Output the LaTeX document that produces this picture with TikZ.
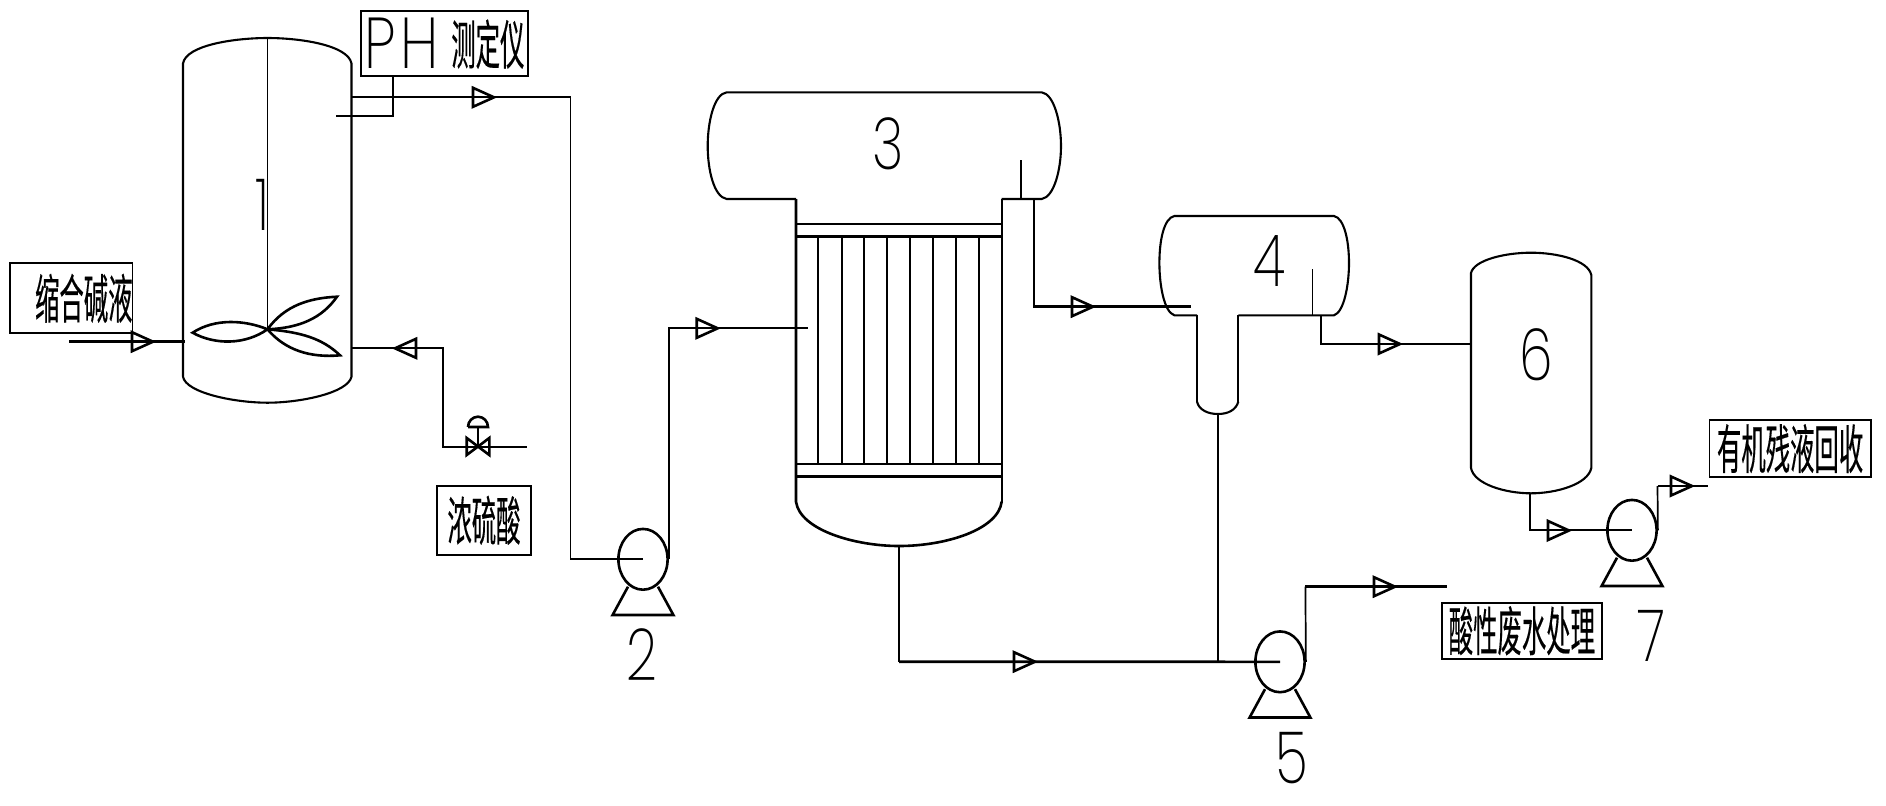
\documentclass[tikz,border=0pt]{standalone}
\usepackage{fontspec}
\usetikzlibrary{shapes.geometric,calc}
\newfontfamily\cjk[FakeStretch=0.46,FakeBold=0.25]{Noto Sans CJK SC}
\newfontfamily\numfont[FakeStretch=0.75]{Poppins ExtraLight}
\newfontfamily\phfont[FakeStretch=0.8]{Poppins ExtraLight}
\newcommand{\pumpunit}[3]{% name, x, y
  \node[pumpbody] (#1) at (#2,#3) {};
  \draw[thick line] ($(#1)+(-15,27.4)$) -- ($(#1)+(-30.4,55.7)$) -- ($(#1)+(30.4,55.7)$) -- ($(#1)+(15,27.4)$);
}
\begin{document}
\begin{tikzpicture}[x=0.5pt,y=-0.5pt,
  thin line/.style={line width=0.85pt},
  mid line/.style={line width=1.05pt},
  thick line/.style={line width=1.3pt},
  pumpbody/.style={draw,ellipse,line width=1.3pt,minimum width=24.6pt,minimum height=30.4pt,inner sep=0pt},
  tagbox/.style={draw,line width=0.9pt,inner sep=0pt,font=\cjk\fontsize{26.5}{26.5}\selectfont},
  num/.style={inner sep=0pt,font=\numfont\fontsize{36}{36}\selectfont},
  flow/.pic={\draw[thick line] (-21,-9.5) -- (0,0) -- (-21,9.5) -- cycle;}]
\useasboundingbox (0,0) rectangle (1886,805);

% vessel 1
\draw[mid line] (183,376.7) -- (183,63.5) .. controls (186,45) and (235,38) .. (267.5,38)
  .. controls (300,38) and (348,45) .. (351.5,63.5) -- (351.5,376.7)
  .. controls (348,393) and (300,402.7) .. (267.5,402.7)
  .. controls (235,402.7) and (186,393) .. (183,376.7);
\coordinate (hub) at (267.5,329.3);
\draw[thin line] (267.5,38) -- (hub);
\draw[thick line] (hub) .. controls (245,320) and (215,318) .. (192.6,332.7)
  .. controls (215,345) and (245,345) .. (hub);
\draw[thick line] (hub) .. controls (285,305) and (310,298) .. (337,296.7)
  .. controls (322,318) and (300,328) .. (hub);
\draw[thick line] (hub) .. controls (300,332) and (322,338) .. (340,355.3)
  .. controls (310,358) and (285,350) .. (hub);

% exchanger 3
\draw[mid line] (796,199) -- (726.7,199) .. controls (714,197) and (707.7,170) .. (707.7,146)
  .. controls (707.7,122) and (714,94) .. (726.7,92.3) -- (1041.7,92.3)
  .. controls (1054,94) and (1061,122) .. (1061,146)
  .. controls (1061,170) and (1054,197) .. (1041.7,199) -- (1001.7,199);
\draw[thick line] (796,199) -- (796,501.7) .. controls (800,530) and (855,546) .. (899,546)
  .. controls (945,546) and (998,530) .. (1001.7,501.7);
\draw[thin line] (1001.7,501.7) -- (1001.7,199);
\draw[thin line] (796,224.3) -- (1001.7,224.3);
\draw[thick line] (796,236.7) -- (1001.7,236.7);
\draw[thin line] (796,464.3) -- (1001.7,464.3);
\draw[thick line] (796,476.7) -- (1001.7,476.7);
\foreach \tx in {818.3,841.7,864.3,887,910,933,955.7,978.7}
  \draw[thin line] (\tx,236.7) -- (\tx,464.3);
\draw[thick line] (1021,160) -- (1021,199);

% drum 4
\draw[mid line] (1197,315.3) -- (1174.4,315.3) .. controls (1164,312) and (1159.4,285) .. (1159.4,263)
  .. controls (1159.4,240) and (1164,218) .. (1174.4,216) -- (1334,216)
  .. controls (1344,218) and (1349,240) .. (1349,263)
  .. controls (1349,285) and (1344,312) .. (1334,315.3) -- (1238.3,315.3);
\draw[thin line] (1197,315.3) -- (1197,401.7);
\draw[mid line] (1197,401.7) .. controls (1199,410) and (1208,414) .. (1218,414)
  .. controls (1228,414) and (1236,410) .. (1238.3,401.7);
\draw[thin line] (1238.3,401.7) -- (1238.3,315.3);
\draw[thin line] (1312.4,269) -- (1312.4,315.3);

% vessel 6
\draw[mid line] (1471,468) -- (1471,273) .. controls (1474,260) and (1505,252.7) .. (1531,252.7)
  .. controls (1557,252.7) and (1588,260) .. (1591.3,275) -- (1591.3,468)
  .. controls (1588,484) and (1557,493.3) .. (1531,493.3)
  .. controls (1505,493.3) and (1474,484) .. (1471,468);

% pumps
\pumpunit{pumpb}{643}{559.3}
\pumpunit{pumpe}{1280}{661.8}
\pumpunit{pumpg}{1632}{530.3}

% valve
\node[inner sep=0pt] (valve) at (478,447) {};
\draw[thick line] (466.7,438) -- (489.3,455) -- (489.3,438) -- (466.7,455) -- cycle;
\draw[thick line] (valve) -- (478,427);
\draw[thick line] (468,427) -- (488,427) arc[start angle=0,end angle=-180,x radius=10,y radius=10.3];

% numbers
\node[num] (n1) at (262,204.5) {1};
\node[num] (n2) at (642,655) {2};
\node[num] (n3) at (888,143.5) {3};
\node[num] (n4) at (1269,261.5) {4};
\node[num] (n5) at (1292,758) {5};
\node[num] (n6) at (1536,354.5) {6};
\node[num] (n7) at (1651,636) {7};

% tags
\node[tagbox,minimum width=83.5pt,minimum height=32.65pt] (ph) at (444.5,43.3)
  {{\phfont\fontsize{36}{36}\selectfont P\hspace{2.5pt}H}\hspace{6pt}\raisebox{2pt}{测定仪}};
\node[tagbox,minimum width=60.7pt,minimum height=35pt] (feed) at (71.3,298.3) {\hspace{12.5pt}缩合碱液};
\node[tagbox,minimum width=47pt,minimum height=34.35pt] (acid) at (484,520.3) {浓硫酸};
\node[tagbox,minimum width=80.1pt,minimum height=28.15pt] (waste) at (1521.9,630.8) {酸性废水处理};
\node[tagbox,minimum width=80.55pt,minimum height=28.65pt] (organic) at (1790.1,448.6) {有机残液回收\hspace{5pt}};

% nozzles
\coordinate (feedin) at (69,341.7);
\coordinate (v1feed) at (184.5,341.7);
\coordinate (v1top) at (351,97.3);
\coordinate (v1acid) at (350.6,348.3);
\coordinate (phprobe) at (336,116);
\coordinate (acidend) at (526.7,447.3);
\coordinate (shellin) at (807.7,328.3);
\coordinate (outthree) at (1034,199);
\coordinate (infour) at (1191,306.7);
\coordinate (outfour) at (1321,315.3);
\coordinate (legfour) at (1218,414);
\coordinate (insix) at (1471,344);
\coordinate (botsix) at (1530,493.3);
\coordinate (botthree) at (899,546);
\coordinate (cornerthree) at (899,661.7);
\coordinate (wasteend) at (1447,586.7);
\coordinate (wastecorner) at (1305.4,586.7);
\coordinate (orgend) at (1707.8,486);
\coordinate (orgcorner) at (1657.5,486);

% pipes
\draw[thick line] (ph.south -| 393,0) |- (phprobe);
\draw[thin line] (v1top) -- (570.6,97.3) |- (pumpb.center);
\draw[thin line] (pumpb.east) |- (shellin);
\draw[thick line] (feedin) -- (v1feed);
\draw[thin line] (acidend) -- (443,447.3) |- (v1acid);
\draw[thick line] (outthree) |- (infour);
\draw[thick line] (outfour) |- (insix);
\draw[thin line] (botthree) -- (cornerthree);
\draw[thick line] (cornerthree) -- (pumpe.center);
\draw[thick line] (legfour) -- (legfour |- pumpe.center);
\draw[thin line] (pumpe.east) -- (wastecorner);
\draw[thick line] (wastecorner) -- (wasteend);
\draw[thin line] (botsix) |- (pumpg.center);
\draw[thin line] (pumpg.east) -- (orgcorner);
\draw[thick line] (orgcorner) -- (orgend);

% flow marks
\path (494,97.3) pic {flow};
\path (153,341.7) pic {flow};
\path (395,348.3) pic[rotate=180] {flow};
\path (717.7,328.3) pic {flow};
\path (1093,306.7) pic {flow};
\path (1400,344) pic {flow};
\path (1035,661.7) pic {flow};
\path (1395,586.7) pic {flow};
\path (1569,530.5) pic {flow};
\path (1692,486) pic {flow};
\end{tikzpicture}
\end{document}
